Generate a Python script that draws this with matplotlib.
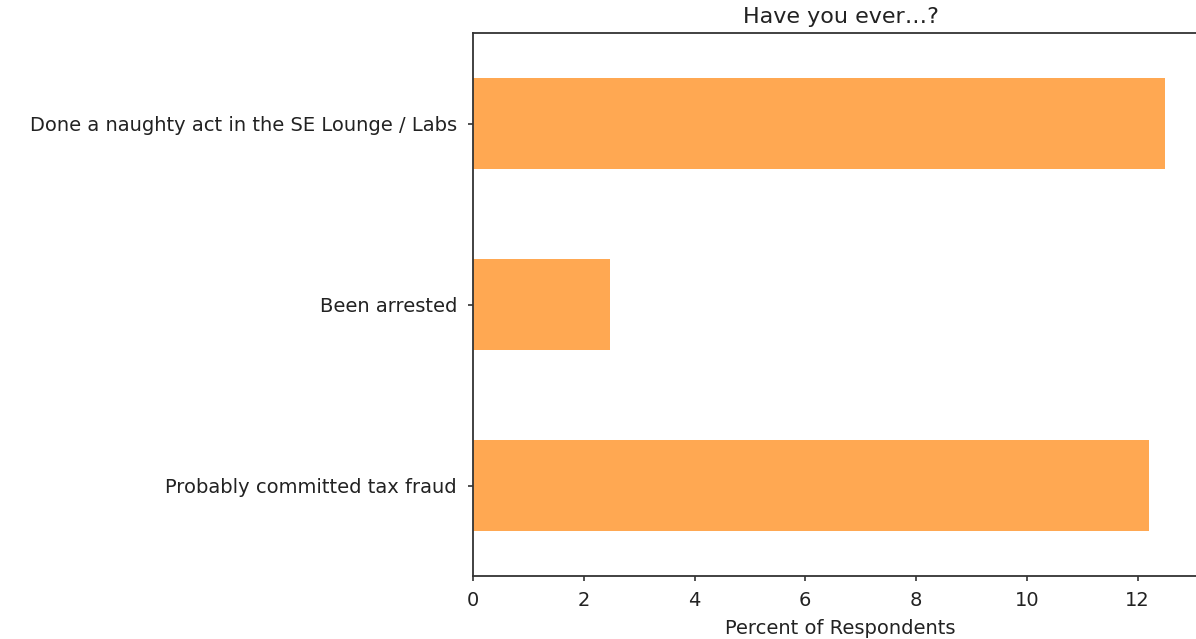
import matplotlib
matplotlib.use("Agg")
import matplotlib.pyplot as plt

# survey answers, bottom to top as pandas barh draws them
questions = ["Probably committed tax fraud", "Been arrested",
             "Done a naughty act in the SE Lounge / Labs"]
percent = [12.2, 2.47, 12.5]
xticks = [0, 2, 4, 6, 8, 10, 12]

plt.rcParams['font.family'] = ['DejaVu Sans']

fig = plt.figure(figsize=(11.96, 6.39), dpi=100)
ax = fig.add_axes([473 / 1196, 63 / 639, 1 - 473 / 1196 + 0.01, 543 / 639])

ax.barh(range(len(questions)), percent, height=0.5, color="#FFA852")
ax.set_yticks(range(len(questions)))
ax.set_yticklabels(questions, fontsize=14, color="#222222")
ax.set_ylim(-0.5, 2.5)
ax.set_xlim(0, 13.27)
ax.set_xticks(xticks)
ax.tick_params(axis='x', labelsize=14, pad=7, labelcolor="#222222")
ax.tick_params(axis='y', pad=8)
ax.tick_params(width=1.2, color="#333333")
ax.set_xlabel("Percent of Respondents", fontsize=14, color="#222222", labelpad=7)
ax.set_title("Have you ever…?", fontsize=16, color="#222222", pad=7)
ax.spines['right'].set_visible(False)
for s in ['left', 'bottom', 'top']:
    ax.spines[s].set_color("#333333")
    ax.spines[s].set_linewidth(1.3)

fig.savefig("out.png", dpi=100)
